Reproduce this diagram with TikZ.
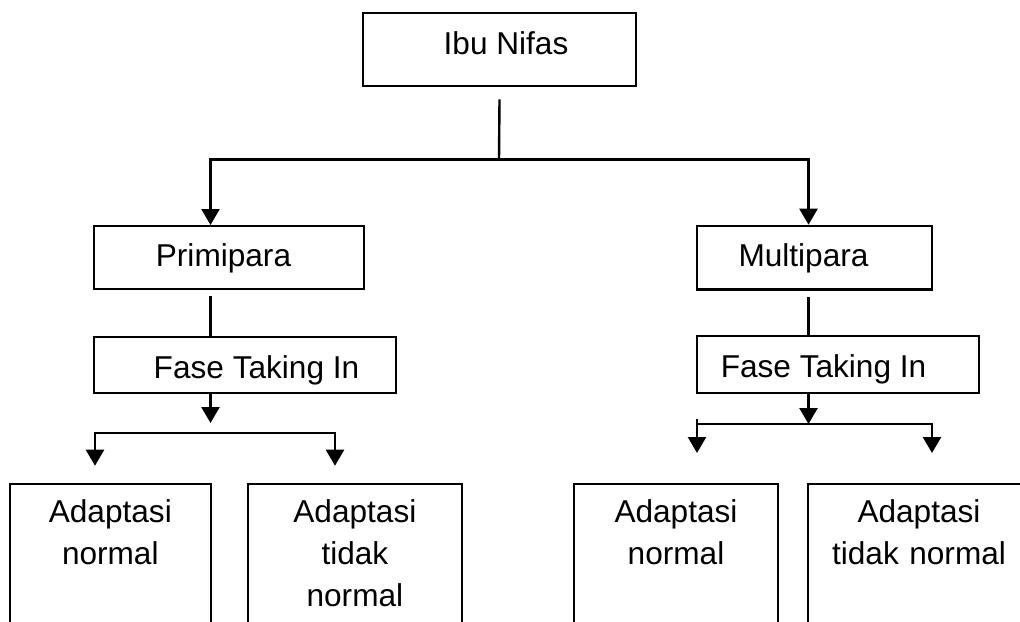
\documentclass[tikz,border=0pt]{standalone}
\usepackage{fontspec}
\setmainfont{Liberation Sans}
\usetikzlibrary{arrows.meta,calc}
\begin{document}
\begin{tikzpicture}[x=0.5pt,y=-0.5pt,
  every node/.style={font=\fontsize{15.8pt}{21pt}\selectfont},
  box/.style={draw,line width=1.15pt,rectangle,inner sep=0pt,anchor=north},
  link/.style={line width=1.2pt},
  tipA/.tip={Triangle[width=9pt,length=8pt]},
  arr/.style={link,-tipA},
  arrs/.style={link,tipA-tipA},
  leaf/.style={box,align=center,text height=19.5pt,text depth=150pt}
]
\useasboundingbox (0,0) rectangle (1020,621);
\clip (0,0) rectangle (1020,621);

% boxes
\node[box,minimum width=136.5pt,text height=20.5pt,text depth=16pt] (ibu) at (499.5,12) {\hspace*{6.5pt}Ibu Nifas};
\node[box,minimum width=135pt,text height=20pt,text depth=11.5pt] (pri) at (229,225) {Primipara\hspace*{5.5pt}};
\node[box,minimum width=117.5pt,text height=20.15pt,text depth=11.65pt] (mul) at (814.5,224.7) {Multipara\hspace*{11pt}};
\node[box,minimum width=151pt,text height=20.5pt,text depth=7.5pt] (fl) at (245,336) {\hspace*{11.5pt}Fase Taking In};
\node[box,minimum width=141pt,text height=20.5pt,text depth=8pt] (fr) at (837.8,335) {Fase Taking In\hspace*{14.3pt}};

\node[leaf,minimum width=100.35pt,text width=100.35pt] (al) at (110.3,482.7) {Adaptasi\\normal};
\node[leaf,minimum width=106.85pt,text width=106.85pt] (atl) at (354.9,482.7) {Adaptasi\\tidak\\normal};
\node[leaf,minimum width=102pt,text width=102pt] (ar) at (676,482.7) {Adaptasi\\normal};
\node[leaf,minimum width=111pt,text width=111pt] (atr) at (919,482.7) {Adaptasi\\tidak normal};

% axes and junctions
\coordinate (axL) at (210.5,0);
\coordinate (axR) at (808.5,0);
\coordinate (hub) at (499,159.5);

\draw[link] ($(ibu.south)+(0,12)$) -- (hub);
\draw[arr] (hub) -| (pri.north -| axL);
\draw[arr] (hub) -| (mul.north -| axR);

\draw[link] ($(pri.south -| axL)+(0,6)$) -- (fl.north -| axL);
\draw[link] ($(mul.south -| axR)+(0,6.7)$) -- (fr.north -| axR);

% left lower branch
\coordinate (ltip) at (210.5,423);
\draw[arr] (fl.south -| axL) -- (ltip);
\coordinate (lbar) at (215,432.7);
\coordinate (laL) at (95,465.7);
\coordinate (laR) at (335,465.7);
\draw[arrs] (laL) |- (lbar) -| (laR);

% right lower branch
\coordinate (rbar) at (808.5,424);
\draw[arr] (fr.south -| axR) -- (rbar);
\coordinate (rtick) at (697,419);
\coordinate (raL) at (697,453);
\coordinate (raR) at (932,453);
\draw[arr] (rtick) -- (raL);
\draw[arr] (rtick |- rbar) -| (raR);
\end{tikzpicture}
\end{document}
